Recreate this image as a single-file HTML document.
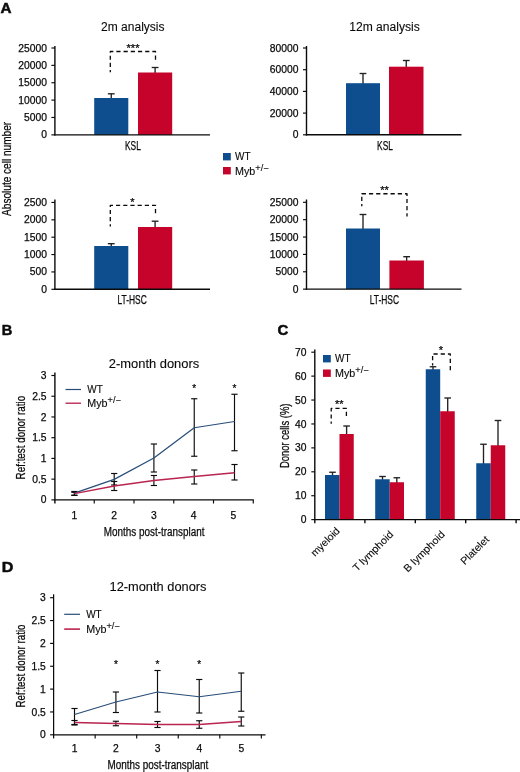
<!DOCTYPE html>
<html lang="en">
<head>
<meta charset="utf-8">
<title>Figure</title>
<style>
html,body{margin:0;padding:0;background:#fff;}
body{width:520px;height:772px;overflow:hidden;}
svg{display:block;font-family:'Liberation Sans',sans-serif;}
</style>
</head>
<body>
<svg width="520" height="772" viewBox="0 0 520 772">
<rect x="0" y="0" width="520" height="772" fill="#ffffff"/>
<text x="0.4" y="12.7" font-size="14.6" fill="#0a0a0a" textLength="11" lengthAdjust="spacingAndGlyphs" stroke="#0a0a0a" stroke-width="0.5" font-weight="bold">A</text>
<text x="1.7" y="335.4" font-size="14.6" fill="#0a0a0a" stroke="#0a0a0a" stroke-width="0.5" font-weight="bold">B</text>
<text x="277.6" y="335" font-size="14.6" fill="#0a0a0a" textLength="10.8" lengthAdjust="spacingAndGlyphs" stroke="#0a0a0a" stroke-width="0.5" font-weight="bold">C</text>
<text x="1.7" y="571.8" font-size="14.6" fill="#0a0a0a" textLength="11.6" lengthAdjust="spacingAndGlyphs" stroke="#0a0a0a" stroke-width="0.5" font-weight="bold">D</text>
<text x="132.8" y="31.3" font-size="12" fill="#0a0a0a" textLength="63.5" lengthAdjust="spacingAndGlyphs" stroke="#0a0a0a" stroke-width="0.1" text-anchor="middle">2m analysis</text>
<text x="384.5" y="31.3" font-size="12" fill="#0a0a0a" textLength="70.5" lengthAdjust="spacingAndGlyphs" stroke="#0a0a0a" stroke-width="0.1" text-anchor="middle">12m analysis</text>
<line x1="111.25" y1="93.8" x2="111.25" y2="99" stroke="#222222" stroke-width="1.35"/>
<line x1="107.85" y1="93.8" x2="114.65" y2="93.8" stroke="#222222" stroke-width="1.35"/>
<rect x="94.2" y="98" width="34.1" height="36.85" fill="#0e4e8e"/>
<line x1="155.1" y1="67.5" x2="155.1" y2="73.5" stroke="#222222" stroke-width="1.35"/>
<line x1="151.7" y1="67.5" x2="158.5" y2="67.5" stroke="#222222" stroke-width="1.35"/>
<rect x="138" y="72.5" width="34.2" height="62.35" fill="#c6042b"/>
<line x1="54.9" y1="46" x2="54.9" y2="135.55" stroke="#0a0a0a" stroke-width="1.4"/>
<line x1="51.4" y1="48" x2="54.9" y2="48" stroke="#0a0a0a" stroke-width="1.15"/>
<text x="46.9" y="52" font-size="10.3" fill="#0a0a0a" stroke="#0a0a0a" stroke-width="0.25" text-anchor="end">25000</text>
<line x1="51.4" y1="65.37" x2="54.9" y2="65.37" stroke="#0a0a0a" stroke-width="1.15"/>
<text x="46.9" y="69" font-size="10.3" fill="#0a0a0a" stroke="#0a0a0a" stroke-width="0.25" text-anchor="end">20000</text>
<line x1="51.4" y1="82.74" x2="54.9" y2="82.74" stroke="#0a0a0a" stroke-width="1.15"/>
<text x="46.9" y="86" font-size="10.3" fill="#0a0a0a" stroke="#0a0a0a" stroke-width="0.25" text-anchor="end">15000</text>
<line x1="51.4" y1="100.11" x2="54.9" y2="100.11" stroke="#0a0a0a" stroke-width="1.15"/>
<text x="46.9" y="104" font-size="10.3" fill="#0a0a0a" stroke="#0a0a0a" stroke-width="0.25" text-anchor="end">10000</text>
<line x1="51.4" y1="117.48" x2="54.9" y2="117.48" stroke="#0a0a0a" stroke-width="1.15"/>
<text x="46.9" y="121" font-size="10.3" fill="#0a0a0a" stroke="#0a0a0a" stroke-width="0.25" text-anchor="end">5000</text>
<line x1="51.4" y1="134.85" x2="54.9" y2="134.85" stroke="#0a0a0a" stroke-width="1.15"/>
<text x="46.9" y="138" font-size="10.3" fill="#0a0a0a" stroke="#0a0a0a" stroke-width="0.25" text-anchor="end">0</text>
<line x1="54.2" y1="134.85" x2="210" y2="134.85" stroke="#0a0a0a" stroke-width="1.4"/>
<text x="132.9" y="150" font-size="12.3" fill="#0a0a0a" textLength="15.8" lengthAdjust="spacingAndGlyphs" stroke="#0a0a0a" stroke-width="0.25" text-anchor="middle">KSL</text>
<path d="M110.3 72.25 V51.5 H155.5 V61.5" fill="none" stroke="#0a0a0a" stroke-width="1.3" stroke-dasharray="4.2 3" stroke-dashoffset="2" stroke-linejoin="round"/>
<text x="133" y="51.6" font-size="10" fill="#0a0a0a" textLength="12.9" lengthAdjust="spacingAndGlyphs" stroke="#0a0a0a" stroke-width="0.25" text-anchor="middle">***</text>
<line x1="363" y1="73.5" x2="363" y2="84.2" stroke="#222222" stroke-width="1.35"/>
<line x1="359.6" y1="73.5" x2="366.4" y2="73.5" stroke="#222222" stroke-width="1.35"/>
<rect x="346" y="83.2" width="34" height="51.6" fill="#0e4e8e"/>
<line x1="406.25" y1="60.5" x2="406.25" y2="67.7" stroke="#222222" stroke-width="1.35"/>
<line x1="402.85" y1="60.5" x2="409.65" y2="60.5" stroke="#222222" stroke-width="1.35"/>
<rect x="389" y="66.7" width="34.5" height="68.1" fill="#c6042b"/>
<line x1="306.5" y1="46" x2="306.5" y2="135.5" stroke="#0a0a0a" stroke-width="1.4"/>
<line x1="303" y1="48" x2="306.5" y2="48" stroke="#0a0a0a" stroke-width="1.15"/>
<text x="298.5" y="52" font-size="10.3" fill="#0a0a0a" stroke="#0a0a0a" stroke-width="0.25" text-anchor="end">80000</text>
<line x1="303" y1="69.7" x2="306.5" y2="69.7" stroke="#0a0a0a" stroke-width="1.15"/>
<text x="298.5" y="73" font-size="10.3" fill="#0a0a0a" stroke="#0a0a0a" stroke-width="0.25" text-anchor="end">60000</text>
<line x1="303" y1="91.4" x2="306.5" y2="91.4" stroke="#0a0a0a" stroke-width="1.15"/>
<text x="298.5" y="95" font-size="10.3" fill="#0a0a0a" stroke="#0a0a0a" stroke-width="0.25" text-anchor="end">40000</text>
<line x1="303" y1="113.1" x2="306.5" y2="113.1" stroke="#0a0a0a" stroke-width="1.15"/>
<text x="298.5" y="117" font-size="10.3" fill="#0a0a0a" stroke="#0a0a0a" stroke-width="0.25" text-anchor="end">20000</text>
<line x1="303" y1="134.8" x2="306.5" y2="134.8" stroke="#0a0a0a" stroke-width="1.15"/>
<text x="298.5" y="138" font-size="10.3" fill="#0a0a0a" stroke="#0a0a0a" stroke-width="0.25" text-anchor="end">0</text>
<line x1="305.8" y1="134.8" x2="461.5" y2="134.8" stroke="#0a0a0a" stroke-width="1.4"/>
<text x="385" y="150" font-size="12.3" fill="#0a0a0a" textLength="15.8" lengthAdjust="spacingAndGlyphs" stroke="#0a0a0a" stroke-width="0.25" text-anchor="middle">KSL</text>
<line x1="111.25" y1="243.7" x2="111.25" y2="247" stroke="#222222" stroke-width="1.35"/>
<line x1="107.85" y1="243.7" x2="114.65" y2="243.7" stroke="#222222" stroke-width="1.35"/>
<rect x="94.2" y="246" width="34.1" height="43.3" fill="#0e4e8e"/>
<line x1="155.1" y1="221.2" x2="155.1" y2="228" stroke="#222222" stroke-width="1.35"/>
<line x1="151.7" y1="221.2" x2="158.5" y2="221.2" stroke="#222222" stroke-width="1.35"/>
<rect x="138" y="227" width="34.2" height="62.3" fill="#c6042b"/>
<line x1="54.9" y1="199.5" x2="54.9" y2="290" stroke="#0a0a0a" stroke-width="1.4"/>
<line x1="51.4" y1="202.45" x2="54.9" y2="202.45" stroke="#0a0a0a" stroke-width="1.15"/>
<text x="46.9" y="206" font-size="10.3" fill="#0a0a0a" stroke="#0a0a0a" stroke-width="0.25" text-anchor="end">2500</text>
<line x1="51.4" y1="219.82" x2="54.9" y2="219.82" stroke="#0a0a0a" stroke-width="1.15"/>
<text x="46.9" y="223" font-size="10.3" fill="#0a0a0a" stroke="#0a0a0a" stroke-width="0.25" text-anchor="end">2000</text>
<line x1="51.4" y1="237.19" x2="54.9" y2="237.19" stroke="#0a0a0a" stroke-width="1.15"/>
<text x="46.9" y="241" font-size="10.3" fill="#0a0a0a" stroke="#0a0a0a" stroke-width="0.25" text-anchor="end">1500</text>
<line x1="51.4" y1="254.56" x2="54.9" y2="254.56" stroke="#0a0a0a" stroke-width="1.15"/>
<text x="46.9" y="258" font-size="10.3" fill="#0a0a0a" stroke="#0a0a0a" stroke-width="0.25" text-anchor="end">1000</text>
<line x1="51.4" y1="271.93" x2="54.9" y2="271.93" stroke="#0a0a0a" stroke-width="1.15"/>
<text x="46.9" y="275" font-size="10.3" fill="#0a0a0a" stroke="#0a0a0a" stroke-width="0.25" text-anchor="end">500</text>
<line x1="51.4" y1="289.3" x2="54.9" y2="289.3" stroke="#0a0a0a" stroke-width="1.15"/>
<text x="46.9" y="293" font-size="10.3" fill="#0a0a0a" stroke="#0a0a0a" stroke-width="0.25" text-anchor="end">0</text>
<line x1="54.2" y1="289.3" x2="210" y2="289.3" stroke="#0a0a0a" stroke-width="1.4"/>
<text x="132.1" y="303.8" font-size="12.3" fill="#0a0a0a" textLength="29.3" lengthAdjust="spacingAndGlyphs" stroke="#0a0a0a" stroke-width="0.25" text-anchor="middle">LT-HSC</text>
<path d="M110.3 226.5 V205.4 H155.5 V215.2" fill="none" stroke="#0a0a0a" stroke-width="1.3" stroke-dasharray="4.2 3" stroke-dashoffset="2" stroke-linejoin="round"/>
<text x="132.5" y="205.5" font-size="10" fill="#0a0a0a" textLength="4.3" lengthAdjust="spacingAndGlyphs" stroke="#0a0a0a" stroke-width="0.25" text-anchor="middle">*</text>
<line x1="363" y1="214.5" x2="363" y2="229.5" stroke="#222222" stroke-width="1.35"/>
<line x1="359.6" y1="214.5" x2="366.4" y2="214.5" stroke="#222222" stroke-width="1.35"/>
<rect x="346" y="228.5" width="34" height="60.65" fill="#0e4e8e"/>
<line x1="406.65" y1="256.7" x2="406.65" y2="261.5" stroke="#222222" stroke-width="1.35"/>
<line x1="403.25" y1="256.7" x2="410.05" y2="256.7" stroke="#222222" stroke-width="1.35"/>
<rect x="389.4" y="260.5" width="34.5" height="28.65" fill="#c6042b"/>
<line x1="306.5" y1="199.5" x2="306.5" y2="289.85" stroke="#0a0a0a" stroke-width="1.4"/>
<line x1="303" y1="202.3" x2="306.5" y2="202.3" stroke="#0a0a0a" stroke-width="1.15"/>
<text x="298.5" y="206" font-size="10.3" fill="#0a0a0a" stroke="#0a0a0a" stroke-width="0.25" text-anchor="end">25000</text>
<line x1="303" y1="219.67" x2="306.5" y2="219.67" stroke="#0a0a0a" stroke-width="1.15"/>
<text x="298.5" y="223" font-size="10.3" fill="#0a0a0a" stroke="#0a0a0a" stroke-width="0.25" text-anchor="end">20000</text>
<line x1="303" y1="237.04" x2="306.5" y2="237.04" stroke="#0a0a0a" stroke-width="1.15"/>
<text x="298.5" y="241" font-size="10.3" fill="#0a0a0a" stroke="#0a0a0a" stroke-width="0.25" text-anchor="end">15000</text>
<line x1="303" y1="254.41" x2="306.5" y2="254.41" stroke="#0a0a0a" stroke-width="1.15"/>
<text x="298.5" y="258" font-size="10.3" fill="#0a0a0a" stroke="#0a0a0a" stroke-width="0.25" text-anchor="end">10000</text>
<line x1="303" y1="271.78" x2="306.5" y2="271.78" stroke="#0a0a0a" stroke-width="1.15"/>
<text x="298.5" y="275" font-size="10.3" fill="#0a0a0a" stroke="#0a0a0a" stroke-width="0.25" text-anchor="end">5000</text>
<line x1="303" y1="289.15" x2="306.5" y2="289.15" stroke="#0a0a0a" stroke-width="1.15"/>
<text x="298.5" y="293" font-size="10.3" fill="#0a0a0a" stroke="#0a0a0a" stroke-width="0.25" text-anchor="end">0</text>
<line x1="305.8" y1="289.15" x2="461.5" y2="289.15" stroke="#0a0a0a" stroke-width="1.4"/>
<text x="384.4" y="303.8" font-size="12.3" fill="#0a0a0a" textLength="29.3" lengthAdjust="spacingAndGlyphs" stroke="#0a0a0a" stroke-width="0.25" text-anchor="middle">LT-HSC</text>
<path d="M361.8 206.2 V193.75 H407 V216.5" fill="none" stroke="#0a0a0a" stroke-width="1.3" stroke-dasharray="4.2 3" stroke-dashoffset="2" stroke-linejoin="round"/>
<text x="384.5" y="193.7" font-size="10" fill="#0a0a0a" textLength="8.6" lengthAdjust="spacingAndGlyphs" stroke="#0a0a0a" stroke-width="0.25" text-anchor="middle">**</text>
<rect x="223" y="153" width="7.8" height="7.4" fill="#0e4e8e"/>
<rect x="223" y="167" width="7.8" height="7.4" fill="#c6042b"/>
<text x="235" y="160.3" font-size="10.2" fill="#0a0a0a" textLength="15.5" lengthAdjust="spacingAndGlyphs" stroke="#0a0a0a" stroke-width="0.12">WT</text>
<text x="235" y="174.5" font-size="10.2" fill="#0a0a0a" stroke="#0a0a0a" stroke-width="0.12" textLength="33.5" lengthAdjust="spacingAndGlyphs">Myb<tspan font-size="8.67" dy="-4">+/−</tspan></text>
<text transform="translate(11.4 168.9) rotate(-90)" font-size="12.3" fill="#0a0a0a" textLength="94" lengthAdjust="spacingAndGlyphs" stroke="#0a0a0a" stroke-width="0.25" text-anchor="middle">Absolute cell number</text>
<text x="154" y="368.2" font-size="12" fill="#0a0a0a" textLength="90.5" lengthAdjust="spacingAndGlyphs" stroke="#0a0a0a" stroke-width="0.1" text-anchor="middle">2-month donors</text>
<line x1="54.9" y1="372.5" x2="54.9" y2="503.48" stroke="#0a0a0a" stroke-width="1.4"/>
<line x1="51.4" y1="375.5" x2="54.9" y2="375.5" stroke="#0a0a0a" stroke-width="1.15"/>
<text x="46.5" y="379" font-size="10.3" fill="#0a0a0a" stroke="#0a0a0a" stroke-width="0.25" text-anchor="end">3</text>
<line x1="51.4" y1="396.23" x2="54.9" y2="396.23" stroke="#0a0a0a" stroke-width="1.15"/>
<text x="46.5" y="400" font-size="10.3" fill="#0a0a0a" stroke="#0a0a0a" stroke-width="0.25" text-anchor="end">2.5</text>
<line x1="51.4" y1="416.96" x2="54.9" y2="416.96" stroke="#0a0a0a" stroke-width="1.15"/>
<text x="46.5" y="421" font-size="10.3" fill="#0a0a0a" stroke="#0a0a0a" stroke-width="0.25" text-anchor="end">2</text>
<line x1="51.4" y1="437.69" x2="54.9" y2="437.69" stroke="#0a0a0a" stroke-width="1.15"/>
<text x="46.5" y="441" font-size="10.3" fill="#0a0a0a" stroke="#0a0a0a" stroke-width="0.25" text-anchor="end">1.5</text>
<line x1="51.4" y1="458.42" x2="54.9" y2="458.42" stroke="#0a0a0a" stroke-width="1.15"/>
<text x="46.5" y="462" font-size="10.3" fill="#0a0a0a" stroke="#0a0a0a" stroke-width="0.25" text-anchor="end">1</text>
<line x1="51.4" y1="479.15" x2="54.9" y2="479.15" stroke="#0a0a0a" stroke-width="1.15"/>
<text x="46.5" y="483" font-size="10.3" fill="#0a0a0a" stroke="#0a0a0a" stroke-width="0.25" text-anchor="end">0.5</text>
<line x1="51.4" y1="499.88" x2="54.9" y2="499.88" stroke="#0a0a0a" stroke-width="1.15"/>
<text x="46.5" y="503" font-size="10.3" fill="#0a0a0a" stroke="#0a0a0a" stroke-width="0.25" text-anchor="end">0</text>
<line x1="54.2" y1="499.88" x2="253.8" y2="499.88" stroke="#0a0a0a" stroke-width="1.4"/>
<line x1="94.25" y1="499.88" x2="94.25" y2="503.48" stroke="#0a0a0a" stroke-width="1.15"/>
<line x1="134" y1="499.88" x2="134" y2="503.48" stroke="#0a0a0a" stroke-width="1.15"/>
<line x1="173.75" y1="499.88" x2="173.75" y2="503.48" stroke="#0a0a0a" stroke-width="1.15"/>
<line x1="213.5" y1="499.88" x2="213.5" y2="503.48" stroke="#0a0a0a" stroke-width="1.15"/>
<line x1="253.25" y1="499.88" x2="253.25" y2="503.48" stroke="#0a0a0a" stroke-width="1.15"/>
<text x="74.3" y="518.8" font-size="10.3" fill="#0a0a0a" stroke="#0a0a0a" stroke-width="0.25" text-anchor="middle">1</text>
<text x="114.2" y="518.8" font-size="10.3" fill="#0a0a0a" stroke="#0a0a0a" stroke-width="0.25" text-anchor="middle">2</text>
<text x="153.8" y="518.8" font-size="10.3" fill="#0a0a0a" stroke="#0a0a0a" stroke-width="0.25" text-anchor="middle">3</text>
<text x="193.7" y="518.8" font-size="10.3" fill="#0a0a0a" stroke="#0a0a0a" stroke-width="0.25" text-anchor="middle">4</text>
<text x="233.3" y="518.8" font-size="10.3" fill="#0a0a0a" stroke="#0a0a0a" stroke-width="0.25" text-anchor="middle">5</text>
<line x1="74.4" y1="491.5" x2="74.4" y2="495.3" stroke="#0c0c0c" stroke-width="1.15"/>
<line x1="71.3" y1="491.5" x2="77.5" y2="491.5" stroke="#0c0c0c" stroke-width="1.15"/>
<line x1="71.3" y1="495.3" x2="77.5" y2="495.3" stroke="#0c0c0c" stroke-width="1.15"/>
<line x1="114.2" y1="473.5" x2="114.2" y2="485" stroke="#0c0c0c" stroke-width="1.15"/>
<line x1="111.1" y1="473.5" x2="117.3" y2="473.5" stroke="#0c0c0c" stroke-width="1.15"/>
<line x1="111.1" y1="485" x2="117.3" y2="485" stroke="#0c0c0c" stroke-width="1.15"/>
<line x1="153.9" y1="444" x2="153.9" y2="472" stroke="#0c0c0c" stroke-width="1.15"/>
<line x1="150.8" y1="444" x2="157" y2="444" stroke="#0c0c0c" stroke-width="1.15"/>
<line x1="150.8" y1="472" x2="157" y2="472" stroke="#0c0c0c" stroke-width="1.15"/>
<line x1="194.25" y1="398.75" x2="194.25" y2="456.25" stroke="#0c0c0c" stroke-width="1.15"/>
<line x1="191.15" y1="398.75" x2="197.35" y2="398.75" stroke="#0c0c0c" stroke-width="1.15"/>
<line x1="191.15" y1="456.25" x2="197.35" y2="456.25" stroke="#0c0c0c" stroke-width="1.15"/>
<line x1="234.5" y1="394.25" x2="234.5" y2="450.75" stroke="#0c0c0c" stroke-width="1.15"/>
<line x1="231.4" y1="394.25" x2="237.6" y2="394.25" stroke="#0c0c0c" stroke-width="1.15"/>
<line x1="231.4" y1="450.75" x2="237.6" y2="450.75" stroke="#0c0c0c" stroke-width="1.15"/>
<line x1="74.4" y1="492.3" x2="74.4" y2="495.3" stroke="#0c0c0c" stroke-width="1.15"/>
<line x1="71.3" y1="492.3" x2="77.5" y2="492.3" stroke="#0c0c0c" stroke-width="1.15"/>
<line x1="71.3" y1="495.3" x2="77.5" y2="495.3" stroke="#0c0c0c" stroke-width="1.15"/>
<line x1="114.2" y1="481.5" x2="114.2" y2="490.5" stroke="#0c0c0c" stroke-width="1.15"/>
<line x1="111.1" y1="481.5" x2="117.3" y2="481.5" stroke="#0c0c0c" stroke-width="1.15"/>
<line x1="111.1" y1="490.5" x2="117.3" y2="490.5" stroke="#0c0c0c" stroke-width="1.15"/>
<line x1="153.9" y1="475.5" x2="153.9" y2="485.5" stroke="#0c0c0c" stroke-width="1.15"/>
<line x1="150.8" y1="475.5" x2="157" y2="475.5" stroke="#0c0c0c" stroke-width="1.15"/>
<line x1="150.8" y1="485.5" x2="157" y2="485.5" stroke="#0c0c0c" stroke-width="1.15"/>
<line x1="194.25" y1="470" x2="194.25" y2="484" stroke="#0c0c0c" stroke-width="1.15"/>
<line x1="191.15" y1="470" x2="197.35" y2="470" stroke="#0c0c0c" stroke-width="1.15"/>
<line x1="191.15" y1="484" x2="197.35" y2="484" stroke="#0c0c0c" stroke-width="1.15"/>
<line x1="234.5" y1="464.5" x2="234.5" y2="480" stroke="#0c0c0c" stroke-width="1.15"/>
<line x1="231.4" y1="464.5" x2="237.6" y2="464.5" stroke="#0c0c0c" stroke-width="1.15"/>
<line x1="231.4" y1="480" x2="237.6" y2="480" stroke="#0c0c0c" stroke-width="1.15"/>
<path d="M74.4 493.1 L114.2 479.4 L153.9 458 L194.25 427.75 L234.5 421.5" fill="none" stroke="#274d78" stroke-width="1.2" stroke-linejoin="round"/>
<path d="M74.4 493.6 L114.2 486 L153.9 480.5 L194.25 476.5 L234.5 472.75" fill="none" stroke="#b92450" stroke-width="1.35" stroke-linejoin="round"/>
<text x="194.25" y="392.3" font-size="10" fill="#0a0a0a" stroke="#0a0a0a" stroke-width="0.25" text-anchor="middle">*</text>
<text x="234.5" y="392.3" font-size="10" fill="#0a0a0a" stroke="#0a0a0a" stroke-width="0.25" text-anchor="middle">*</text>
<line x1="65.5" y1="389.5" x2="81" y2="389.5" stroke="#274d78" stroke-width="1.2"/>
<line x1="65.5" y1="403.2" x2="81" y2="403.2" stroke="#b92450" stroke-width="1.35"/>
<text x="87.3" y="393.4" font-size="10.2" fill="#0a0a0a" textLength="15.5" lengthAdjust="spacingAndGlyphs" stroke="#0a0a0a" stroke-width="0.12">WT</text>
<text x="87.3" y="407.1" font-size="10.2" fill="#0a0a0a" stroke="#0a0a0a" stroke-width="0.12" textLength="33.5" lengthAdjust="spacingAndGlyphs">Myb<tspan font-size="8.67" dy="-4">+/−</tspan></text>
<text x="154.1" y="535.7" font-size="12.3" fill="#0a0a0a" textLength="100.8" lengthAdjust="spacingAndGlyphs" stroke="#0a0a0a" stroke-width="0.25" text-anchor="middle">Months post-transplant</text>
<text transform="translate(25.4 437.6) rotate(-90)" font-size="12.3" fill="#0a0a0a" textLength="83.6" lengthAdjust="spacingAndGlyphs" stroke="#0a0a0a" stroke-width="0.25" text-anchor="middle">Ref:test donor ratio</text>
<text x="158" y="591" font-size="12" fill="#0a0a0a" textLength="97" lengthAdjust="spacingAndGlyphs" stroke="#0a0a0a" stroke-width="0.1" text-anchor="middle">12-month donors</text>
<line x1="53.6" y1="594.3" x2="53.6" y2="738.4" stroke="#0a0a0a" stroke-width="1.25"/>
<line x1="50.1" y1="597.7" x2="53.6" y2="597.7" stroke="#0a0a0a" stroke-width="1.15"/>
<text x="45.8" y="601" font-size="10.3" fill="#0a0a0a" stroke="#0a0a0a" stroke-width="0.25" text-anchor="end">3</text>
<line x1="50.1" y1="620.55" x2="53.6" y2="620.55" stroke="#0a0a0a" stroke-width="1.15"/>
<text x="45.8" y="624" font-size="10.3" fill="#0a0a0a" stroke="#0a0a0a" stroke-width="0.25" text-anchor="end">2.5</text>
<line x1="50.1" y1="643.4" x2="53.6" y2="643.4" stroke="#0a0a0a" stroke-width="1.15"/>
<text x="45.8" y="647" font-size="10.3" fill="#0a0a0a" stroke="#0a0a0a" stroke-width="0.25" text-anchor="end">2</text>
<line x1="50.1" y1="666.25" x2="53.6" y2="666.25" stroke="#0a0a0a" stroke-width="1.15"/>
<text x="45.8" y="670" font-size="10.3" fill="#0a0a0a" stroke="#0a0a0a" stroke-width="0.25" text-anchor="end">1.5</text>
<line x1="50.1" y1="689.1" x2="53.6" y2="689.1" stroke="#0a0a0a" stroke-width="1.15"/>
<text x="45.8" y="693" font-size="10.3" fill="#0a0a0a" stroke="#0a0a0a" stroke-width="0.25" text-anchor="end">1</text>
<line x1="50.1" y1="711.95" x2="53.6" y2="711.95" stroke="#0a0a0a" stroke-width="1.15"/>
<text x="45.8" y="716" font-size="10.3" fill="#0a0a0a" stroke="#0a0a0a" stroke-width="0.25" text-anchor="end">0.5</text>
<line x1="50.1" y1="734.8" x2="53.6" y2="734.8" stroke="#0a0a0a" stroke-width="1.15"/>
<text x="45.8" y="738" font-size="10.3" fill="#0a0a0a" stroke="#0a0a0a" stroke-width="0.25" text-anchor="end">0</text>
<line x1="52.98" y1="734.8" x2="265.5" y2="734.8" stroke="#0a0a0a" stroke-width="1.25"/>
<line x1="95.15" y1="734.8" x2="95.15" y2="738.4" stroke="#0a0a0a" stroke-width="1.15"/>
<line x1="136.7" y1="734.8" x2="136.7" y2="738.4" stroke="#0a0a0a" stroke-width="1.15"/>
<line x1="178.25" y1="734.8" x2="178.25" y2="738.4" stroke="#0a0a0a" stroke-width="1.15"/>
<line x1="219.8" y1="734.8" x2="219.8" y2="738.4" stroke="#0a0a0a" stroke-width="1.15"/>
<line x1="261.35" y1="734.8" x2="261.35" y2="738.4" stroke="#0a0a0a" stroke-width="1.15"/>
<text x="74.5" y="751.8" font-size="10.3" fill="#0a0a0a" stroke="#0a0a0a" stroke-width="0.25" text-anchor="middle">1</text>
<text x="115.9" y="751.8" font-size="10.3" fill="#0a0a0a" stroke="#0a0a0a" stroke-width="0.25" text-anchor="middle">2</text>
<text x="157.5" y="751.8" font-size="10.3" fill="#0a0a0a" stroke="#0a0a0a" stroke-width="0.25" text-anchor="middle">3</text>
<text x="199.25" y="751.8" font-size="10.3" fill="#0a0a0a" stroke="#0a0a0a" stroke-width="0.25" text-anchor="middle">4</text>
<text x="241.25" y="751.8" font-size="10.3" fill="#0a0a0a" stroke="#0a0a0a" stroke-width="0.25" text-anchor="middle">5</text>
<line x1="74.5" y1="708.5" x2="74.5" y2="724.5" stroke="#0c0c0c" stroke-width="1.15"/>
<line x1="71.4" y1="708.5" x2="77.6" y2="708.5" stroke="#0c0c0c" stroke-width="1.15"/>
<line x1="71.4" y1="724.5" x2="77.6" y2="724.5" stroke="#0c0c0c" stroke-width="1.15"/>
<line x1="115.9" y1="692" x2="115.9" y2="712.5" stroke="#0c0c0c" stroke-width="1.15"/>
<line x1="112.8" y1="692" x2="119" y2="692" stroke="#0c0c0c" stroke-width="1.15"/>
<line x1="112.8" y1="712.5" x2="119" y2="712.5" stroke="#0c0c0c" stroke-width="1.15"/>
<line x1="157.5" y1="670.5" x2="157.5" y2="712" stroke="#0c0c0c" stroke-width="1.15"/>
<line x1="154.4" y1="670.5" x2="160.6" y2="670.5" stroke="#0c0c0c" stroke-width="1.15"/>
<line x1="154.4" y1="712" x2="160.6" y2="712" stroke="#0c0c0c" stroke-width="1.15"/>
<line x1="199.25" y1="679.5" x2="199.25" y2="713" stroke="#0c0c0c" stroke-width="1.15"/>
<line x1="196.15" y1="679.5" x2="202.35" y2="679.5" stroke="#0c0c0c" stroke-width="1.15"/>
<line x1="196.15" y1="713" x2="202.35" y2="713" stroke="#0c0c0c" stroke-width="1.15"/>
<line x1="241.25" y1="673" x2="241.25" y2="711.25" stroke="#0c0c0c" stroke-width="1.15"/>
<line x1="238.15" y1="673" x2="244.35" y2="673" stroke="#0c0c0c" stroke-width="1.15"/>
<line x1="238.15" y1="711.25" x2="244.35" y2="711.25" stroke="#0c0c0c" stroke-width="1.15"/>
<line x1="74.5" y1="720.5" x2="74.5" y2="725" stroke="#0c0c0c" stroke-width="1.15"/>
<line x1="71.4" y1="720.5" x2="77.6" y2="720.5" stroke="#0c0c0c" stroke-width="1.15"/>
<line x1="71.4" y1="725" x2="77.6" y2="725" stroke="#0c0c0c" stroke-width="1.15"/>
<line x1="115.9" y1="721.25" x2="115.9" y2="725.75" stroke="#0c0c0c" stroke-width="1.15"/>
<line x1="112.8" y1="721.25" x2="119" y2="721.25" stroke="#0c0c0c" stroke-width="1.15"/>
<line x1="112.8" y1="725.75" x2="119" y2="725.75" stroke="#0c0c0c" stroke-width="1.15"/>
<line x1="157.5" y1="721.5" x2="157.5" y2="727.5" stroke="#0c0c0c" stroke-width="1.15"/>
<line x1="154.4" y1="721.5" x2="160.6" y2="721.5" stroke="#0c0c0c" stroke-width="1.15"/>
<line x1="154.4" y1="727.5" x2="160.6" y2="727.5" stroke="#0c0c0c" stroke-width="1.15"/>
<line x1="199.25" y1="720.75" x2="199.25" y2="728.25" stroke="#0c0c0c" stroke-width="1.15"/>
<line x1="196.15" y1="720.75" x2="202.35" y2="720.75" stroke="#0c0c0c" stroke-width="1.15"/>
<line x1="196.15" y1="728.25" x2="202.35" y2="728.25" stroke="#0c0c0c" stroke-width="1.15"/>
<line x1="241.25" y1="717" x2="241.25" y2="726" stroke="#0c0c0c" stroke-width="1.15"/>
<line x1="238.15" y1="717" x2="244.35" y2="717" stroke="#0c0c0c" stroke-width="1.15"/>
<line x1="238.15" y1="726" x2="244.35" y2="726" stroke="#0c0c0c" stroke-width="1.15"/>
<path d="M74.5 714.5 L115.9 702 L157.5 692 L199.25 696.75 L241.25 691.25" fill="none" stroke="#274d78" stroke-width="1.2" stroke-linejoin="round"/>
<path d="M74.5 722.5 L115.9 723.5 L157.5 724.5 L199.25 724.5 L241.25 721.5" fill="none" stroke="#b92450" stroke-width="1.6" stroke-linejoin="round"/>
<text x="115.9" y="668" font-size="10" fill="#0a0a0a" stroke="#0a0a0a" stroke-width="0.25" text-anchor="middle">*</text>
<text x="157.5" y="668" font-size="10" fill="#0a0a0a" stroke="#0a0a0a" stroke-width="0.25" text-anchor="middle">*</text>
<text x="199.25" y="668" font-size="10" fill="#0a0a0a" stroke="#0a0a0a" stroke-width="0.25" text-anchor="middle">*</text>
<line x1="64.2" y1="614.3" x2="80" y2="614.3" stroke="#274d78" stroke-width="1.2"/>
<line x1="64.2" y1="629.1" x2="80" y2="629.1" stroke="#b92450" stroke-width="1.6"/>
<text x="86.2" y="618.2" font-size="10.2" fill="#0a0a0a" textLength="15.5" lengthAdjust="spacingAndGlyphs" stroke="#0a0a0a" stroke-width="0.12">WT</text>
<text x="86.2" y="633" font-size="10.2" fill="#0a0a0a" stroke="#0a0a0a" stroke-width="0.12" textLength="33.5" lengthAdjust="spacingAndGlyphs">Myb<tspan font-size="8.67" dy="-4">+/−</tspan></text>
<text x="157.9" y="769" font-size="12.3" fill="#0a0a0a" textLength="100.8" lengthAdjust="spacingAndGlyphs" stroke="#0a0a0a" stroke-width="0.25" text-anchor="middle">Months post-transplant</text>
<text transform="translate(24.5 666) rotate(-90)" font-size="12.3" fill="#0a0a0a" textLength="83" lengthAdjust="spacingAndGlyphs" stroke="#0a0a0a" stroke-width="0.25" text-anchor="middle">Ref:test donor ratio</text>
<line x1="332.5" y1="472.25" x2="332.5" y2="476" stroke="#222222" stroke-width="1.35"/>
<line x1="329.2" y1="472.25" x2="335.8" y2="472.25" stroke="#222222" stroke-width="1.35"/>
<rect x="325" y="475" width="14.5" height="44.64" fill="#0e4e8e"/>
<line x1="346.6" y1="426" x2="346.6" y2="435" stroke="#222222" stroke-width="1.35"/>
<line x1="343.3" y1="426" x2="349.9" y2="426" stroke="#222222" stroke-width="1.35"/>
<rect x="339.5" y="434" width="14.25" height="85.64" fill="#c6042b"/>
<line x1="382.5" y1="476.5" x2="382.5" y2="480.25" stroke="#222222" stroke-width="1.35"/>
<line x1="379.2" y1="476.5" x2="385.8" y2="476.5" stroke="#222222" stroke-width="1.35"/>
<rect x="375.2" y="479.25" width="14.5" height="40.39" fill="#0e4e8e"/>
<line x1="396.8" y1="477.75" x2="396.8" y2="483.25" stroke="#222222" stroke-width="1.35"/>
<line x1="393.5" y1="477.75" x2="400.1" y2="477.75" stroke="#222222" stroke-width="1.35"/>
<rect x="389.7" y="482.25" width="14.3" height="37.39" fill="#c6042b"/>
<line x1="433" y1="366.75" x2="433" y2="370.25" stroke="#222222" stroke-width="1.35"/>
<line x1="429.7" y1="366.75" x2="436.3" y2="366.75" stroke="#222222" stroke-width="1.35"/>
<rect x="425.75" y="369.25" width="14.45" height="150.39" fill="#0e4e8e"/>
<line x1="447.7" y1="398" x2="447.7" y2="412.25" stroke="#222222" stroke-width="1.35"/>
<line x1="444.4" y1="398" x2="451" y2="398" stroke="#222222" stroke-width="1.35"/>
<rect x="440.2" y="411.25" width="14.55" height="108.39" fill="#c6042b"/>
<line x1="483.5" y1="444.25" x2="483.5" y2="464.25" stroke="#222222" stroke-width="1.35"/>
<line x1="480.2" y1="444.25" x2="486.8" y2="444.25" stroke="#222222" stroke-width="1.35"/>
<rect x="476.25" y="463.25" width="14.5" height="56.39" fill="#0e4e8e"/>
<line x1="498" y1="420.5" x2="498" y2="446.25" stroke="#222222" stroke-width="1.35"/>
<line x1="494.7" y1="420.5" x2="501.3" y2="420.5" stroke="#222222" stroke-width="1.35"/>
<rect x="490.75" y="445.25" width="14.5" height="74.39" fill="#c6042b"/>
<line x1="314.8" y1="349.5" x2="314.8" y2="523.24" stroke="#0a0a0a" stroke-width="1.4"/>
<line x1="311.3" y1="352.2" x2="314.8" y2="352.2" stroke="#0a0a0a" stroke-width="1.15"/>
<text x="306.5" y="356" font-size="10.3" fill="#0a0a0a" stroke="#0a0a0a" stroke-width="0.25" text-anchor="end">70</text>
<line x1="311.3" y1="376.12" x2="314.8" y2="376.12" stroke="#0a0a0a" stroke-width="1.15"/>
<text x="306.5" y="380" font-size="10.3" fill="#0a0a0a" stroke="#0a0a0a" stroke-width="0.25" text-anchor="end">60</text>
<line x1="311.3" y1="400.04" x2="314.8" y2="400.04" stroke="#0a0a0a" stroke-width="1.15"/>
<text x="306.5" y="404" font-size="10.3" fill="#0a0a0a" stroke="#0a0a0a" stroke-width="0.25" text-anchor="end">50</text>
<line x1="311.3" y1="423.96" x2="314.8" y2="423.96" stroke="#0a0a0a" stroke-width="1.15"/>
<text x="306.5" y="428" font-size="10.3" fill="#0a0a0a" stroke="#0a0a0a" stroke-width="0.25" text-anchor="end">40</text>
<line x1="311.3" y1="447.88" x2="314.8" y2="447.88" stroke="#0a0a0a" stroke-width="1.15"/>
<text x="306.5" y="451" font-size="10.3" fill="#0a0a0a" stroke="#0a0a0a" stroke-width="0.25" text-anchor="end">30</text>
<line x1="311.3" y1="471.8" x2="314.8" y2="471.8" stroke="#0a0a0a" stroke-width="1.15"/>
<text x="306.5" y="475" font-size="10.3" fill="#0a0a0a" stroke="#0a0a0a" stroke-width="0.25" text-anchor="end">20</text>
<line x1="311.3" y1="495.72" x2="314.8" y2="495.72" stroke="#0a0a0a" stroke-width="1.15"/>
<text x="306.5" y="499" font-size="10.3" fill="#0a0a0a" stroke="#0a0a0a" stroke-width="0.25" text-anchor="end">10</text>
<line x1="311.3" y1="519.64" x2="314.8" y2="519.64" stroke="#0a0a0a" stroke-width="1.15"/>
<text x="306.5" y="523" font-size="10.3" fill="#0a0a0a" stroke="#0a0a0a" stroke-width="0.25" text-anchor="end">0</text>
<line x1="314.1" y1="519.64" x2="520" y2="519.64" stroke="#0a0a0a" stroke-width="1.4"/>
<line x1="364.9" y1="519.64" x2="364.9" y2="523.24" stroke="#0a0a0a" stroke-width="1.4"/>
<line x1="415.3" y1="519.64" x2="415.3" y2="523.24" stroke="#0a0a0a" stroke-width="1.4"/>
<line x1="465.7" y1="519.64" x2="465.7" y2="523.24" stroke="#0a0a0a" stroke-width="1.4"/>
<line x1="516.1" y1="519.64" x2="516.1" y2="523.24" stroke="#0a0a0a" stroke-width="1.4"/>
<rect x="323" y="355" width="7.8" height="7.4" fill="#0e4e8e"/>
<rect x="323" y="369.5" width="7.8" height="7.4" fill="#c6042b"/>
<text x="335" y="362.3" font-size="10.2" fill="#0a0a0a" textLength="15.5" lengthAdjust="spacingAndGlyphs" stroke="#0a0a0a" stroke-width="0.12">WT</text>
<text x="335" y="376.6" font-size="10.2" fill="#0a0a0a" stroke="#0a0a0a" stroke-width="0.12" textLength="33.5" lengthAdjust="spacingAndGlyphs">Myb<tspan font-size="8.67" dy="-4">+/−</tspan></text>
<path d="M331.2 423.8 V408.4 H346.4 V418.8" fill="none" stroke="#0a0a0a" stroke-width="1.3" stroke-dasharray="4.2 3" stroke-dashoffset="2" stroke-linejoin="round"/>
<text x="339.2" y="408.4" font-size="10" fill="#0a0a0a" textLength="8.6" lengthAdjust="spacingAndGlyphs" stroke="#0a0a0a" stroke-width="0.25" text-anchor="middle">**</text>
<path d="M432.6 365.5 V354 H450.3 V371.3" fill="none" stroke="#0a0a0a" stroke-width="1.3" stroke-dasharray="4.2 3" stroke-dashoffset="2" stroke-linejoin="round"/>
<text x="440.8" y="354" font-size="10" fill="#0a0a0a" textLength="4.3" lengthAdjust="spacingAndGlyphs" stroke="#0a0a0a" stroke-width="0.25" text-anchor="middle">*</text>
<text transform="translate(288.9 435.8) rotate(-90)" font-size="12.3" fill="#0a0a0a" textLength="64.5" lengthAdjust="spacingAndGlyphs" stroke="#0a0a0a" stroke-width="0.25" text-anchor="middle">Donor cells (%)</text>
<text transform="translate(340.5 531.5) rotate(-45)" font-size="10.4" fill="#0a0a0a" textLength="36.2" lengthAdjust="spacingAndGlyphs" stroke="#0a0a0a" stroke-width="0.1" text-anchor="end">myeloid</text>
<text transform="translate(394 535) rotate(-45)" font-size="10.4" fill="#0a0a0a" textLength="52.5" lengthAdjust="spacingAndGlyphs" stroke="#0a0a0a" stroke-width="0.1" text-anchor="end">T lymphoid</text>
<text transform="translate(445.5 535) rotate(-45)" font-size="10.4" fill="#0a0a0a" textLength="53.3" lengthAdjust="spacingAndGlyphs" stroke="#0a0a0a" stroke-width="0.1" text-anchor="end">B lymphoid</text>
<text transform="translate(489.8 540.2) rotate(-45)" font-size="10.4" fill="#0a0a0a" textLength="35.5" lengthAdjust="spacingAndGlyphs" stroke="#0a0a0a" stroke-width="0.1" text-anchor="end">Platelet</text>
</svg>
</body>
</html>
